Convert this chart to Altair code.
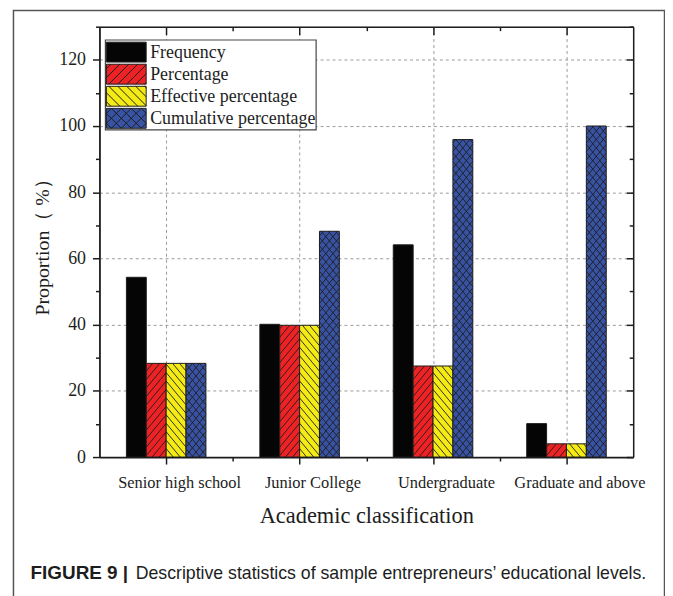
import altair as alt
import pandas as pd

# ---------------- data ----------------
categories = ["Senior high school", "Junior College", "Undergraduate", "Graduate and above"]
series = ["Frequency", "Percentage", "Effective percentage", "Cumulative percentage"]
frequency = [54.3, 40.1, 64.1, 10.1]
percentage = [28.3, 39.8, 27.5, 4.0]
effective_percentage = [28.3, 39.8, 27.5, 4.0]
cumulative_percentage = [28.3, 68.2, 95.9, 100.0]
colors = ["#050505", "#ed2224", "#f3ea16", "#3953a4"]
hatches = ["", "/", "\\", "x"]
y_ticks = list(range(0, 140, 10))

SERIF = "Liberation Serif, Times New Roman, serif"
SANS = "Liberation Sans, Arial, Helvetica, sans-serif"
INK = "#1d1d1d"

# ---------------- geometry helpers ----------------
W, H = 537, 433
Y_MAX = 130
N = len(categories)
SX = W / N            # px per x unit
SY = H / Y_MAX        # px per y unit
BAR_W = 20 / SX       # bar width in x units
SLOPE, SPACING = 1.2, 8.5

values_by_series = [frequency, percentage, effective_percentage, cumulative_percentage]

bars, segs = [], []


def hatch(x0, h_px, kind):
    out = []
    w = BAR_W * SX
    dirs = []
    if kind in ("/", "x"):
        dirs.append(1)
    if kind in ("\\", "x"):
        dirs.append(-1)
    for d in dirs:
        c = -SLOPE * w if d == 1 else 0.0
        c_end = h_px if d == 1 else h_px + SLOPE * w
        while c <= c_end:
            if d == 1:   # y = m*u + c
                lo = max(0.0, -c / SLOPE)
                hi = min(w, (h_px - c) / SLOPE)
            else:        # y = c - m*u
                lo = max(0.0, (c - h_px) / SLOPE)
                hi = min(w, c / SLOPE)
            if hi - lo > 0.3:
                ya = SLOPE * lo + c if d == 1 else c - SLOPE * lo
                yb = SLOPE * hi + c if d == 1 else c - SLOPE * hi
                out.append(dict(xa=x0 + lo / SX, xb=x0 + hi / SX, ya=ya / SY, yb=yb / SY))
            c += SPACING
    return out


for i, cat in enumerate(categories):
    for j, name in enumerate(series):
        v = values_by_series[j][i]
        x0 = i + 0.5 + (j - 2) * BAR_W
        bars.append(dict(category=cat, series=name, x0=x0, x1=x0 + BAR_W, value=v, base=0))
        segs.extend(hatch(x0, v * SY, hatches[j]))

bar_df = pd.DataFrame(bars)
seg_df = pd.DataFrame(segs)


def legend_path(kind):
    # rectangle spanning x -1..3, y -1..1 (scaled by sqrt(size)/2) plus hatch strokes
    p = "M-1,-1L3,-1L3,1L-1,1Z"
    sp = 0.9 if kind != "x" else 1.0
    fams = []
    if kind in ("/", "x"):
        fams.append("/")
    if kind in ("\\", "x"):
        fams.append("\\")
    for f in fams:
        k = -2.0 + sp / 2
        while k < 4.0:
            lo, hi = max(-1.0, k - 1), min(3.0, k + 1)
            if hi - lo > 0.05:
                if f == "/":
                    p += f"M{lo:.3f},{k - lo:.3f}L{hi:.3f},{k - hi:.3f}"
                else:
                    p += f"M{lo:.3f},{lo - k:.3f}L{hi:.3f},{hi - k:.3f}"
            k += sp
    return p


xscale = alt.Scale(domain=[0, N], nice=False, zero=False)
yscale = alt.Scale(domain=[0, Y_MAX], nice=False, zero=False)

x_vals = [0.5, 1, 1.5, 2, 2.5, 3, 3.5]
label_expr = " : ".join(
    [f"datum.value === {i + 0.5} ? '{c}'" for i, c in enumerate(categories)]
) + " : ''"
is_major_x = "datum.value % 1 === 0.5"
is_major_y = "datum.value % 20 === 0"

axis_bottom = alt.Axis(
    values=x_vals, labelExpr=label_expr, orient="bottom",
    tickSize={"condition": {"test": is_major_x, "value": 7}, "value": 4},
    tickColor=INK, tickWidth=1.5, domainColor=INK, domainWidth=1.8,
    grid=True, gridDash=[3, 3], gridColor="#9a9a9a", gridWidth=1,
    gridOpacity={"condition": {"test": is_major_x, "value": 1}, "value": 0},
    labelFont=SERIF, labelFontSize=16.5, labelColor=INK, labelPadding=11, labelOffset=13,
    labelAngle=0, labelOverlap=False, labelLimit=300,
    title="Academic classification", titleFont=SERIF, titleFontSize=22.5,
    titleFontWeight="normal", titleColor=INK, titlePadding=13,
)
axis_top = alt.Axis(
    values=x_vals, orient="top", labels=False, title=None, grid=False,
    tickSize={"condition": {"test": is_major_x, "value": -8}, "value": -4},
    tickColor=INK, tickWidth=1.5, domainColor=INK, domainWidth=1.5,
)
axis_left = alt.Axis(
    values=y_ticks, orient="left",
    labelExpr=f"{is_major_y} ? datum.label : ''",
    tickSize={"condition": {"test": is_major_y, "value": 7}, "value": 4},
    tickColor=INK, tickWidth=1.5, domainColor=INK, domainWidth=1.8,
    grid=True, gridDash=[3, 3], gridColor="#9a9a9a", gridWidth=1,
    gridOpacity={"condition": {"test": f"{is_major_y} && datum.value > 0 && datum.value < {Y_MAX}", "value": 1}, "value": 0},
    labelFont=SERIF, labelFontSize=18, labelColor=INK, labelPadding=7,
    title="Proportion（ %）", titleFont=SERIF, titleFontSize=20,
    titleFontWeight="normal", titleColor=INK, titlePadding=6,
)
axis_right = alt.Axis(
    values=y_ticks, orient="right", labels=False, title=None, grid=False,
    tickSize={"condition": {"test": is_major_y, "value": -7}, "value": -4},
    tickColor=INK, tickWidth=1.5, domainColor=INK, domainWidth=1.5,
)

bar_layer = alt.Chart(bar_df).mark_rect(stroke=INK, strokeWidth=1).encode(
    x=alt.X("x0:Q", scale=xscale, axis=axis_bottom),
    x2="x1:Q",
    y=alt.Y("value:Q", scale=yscale, axis=axis_left),
    y2="base:Q",
    fill=alt.Fill("series:N", scale=alt.Scale(domain=series, range=colors), legend=None),
)

hatch_layer = alt.Chart(seg_df).mark_rule(color=INK, strokeWidth=0.9).encode(
    x=alt.X("xa:Q", scale=xscale, axis=axis_top),
    x2="xb:Q",
    y=alt.Y("ya:Q", scale=yscale, axis=axis_right),
    y2="yb:Q",
)

one = pd.DataFrame({"k": [0]})

# ---------------- legend (drawn as marks so that the hatch patterns show) ----------------
LEG_X, LEG_Y, LEG_W, LEG_H = 6, 13.4, 212, 90.5
ROW0, PITCH = 25.6, 22.2
legend_layers = [
    alt.Chart(one).mark_rect(fill="white", stroke="#444", strokeWidth=1.2).encode(
        x=alt.value(LEG_X), x2=alt.value(LEG_X + LEG_W),
        y=alt.value(LEG_Y), y2=alt.value(LEG_Y + LEG_H),
    )
]
for j, name in enumerate(series):
    cy = ROW0 + PITCH * j
    legend_layers.append(
        alt.Chart(one).mark_point(
            shape=legend_path(hatches[j]), size=400, filled=True, fill=colors[j],
            stroke=INK, strokeWidth=1, opacity=1,
        ).encode(x=alt.value(LEG_X + 11), y=alt.value(cy))
    )
    legend_layers.append(
        alt.Chart(one).mark_text(
            align="left", baseline="middle", font=SERIF, fontSize=18, color=INK, dy=1,
        ).encode(x=alt.value(LEG_X + 45), y=alt.value(cy), text=alt.value(name))
    )

frame = alt.Chart(one).mark_rect(fill=None, stroke="#555", strokeWidth=1.5, clip=False).encode(
    x=alt.value(-86.5), x2=alt.value(568.5), y=alt.value(-16.3), y2=alt.value(620)
)
cap_bold = alt.Chart(one).mark_text(
    align="left", baseline="alphabetic", font=SANS, fontSize=19, fontWeight="bold", color=INK
).encode(x=alt.value(-69.3), y=alt.value(556), text=alt.value("FIGURE 9 |"))
cap_text = alt.Chart(one).mark_text(
    align="left", baseline="alphabetic", font=SANS, fontSize=17.8, color=INK
).encode(x=alt.value(36.5), y=alt.value(556),
         text=alt.value("Descriptive statistics of sample entrepreneurs’ educational levels."))

chart = alt.layer(frame, bar_layer, hatch_layer, *legend_layers, cap_bold, cap_text).resolve_axis(
    x="independent", y="independent"
).properties(
    width=W, height=H,
    autosize=alt.AutoSizeParams(type="none"),
    padding={"left": 92, "top": 17, "right": 32, "bottom": 138},
).configure_view(stroke=None).configure(background="white")

chart.save("out.html", embed_options={"renderer": "svg", "actions": False})
